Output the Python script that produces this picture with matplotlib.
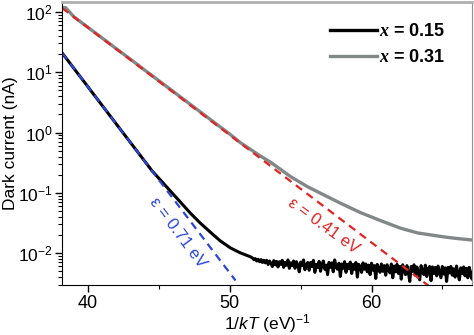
import matplotlib
matplotlib.use("Agg")
import matplotlib.pyplot as plt
import numpy as np

plt.rcParams['font.family'] = ['Liberation Sans', 'DejaVu Sans']
plt.rcParams['mathtext.fontset'] = 'custom'
plt.rcParams['mathtext.rm'] = 'Liberation Sans'
plt.rcParams['mathtext.it'] = 'Liberation Sans:italic'
plt.rcParams['mathtext.bf'] = 'Liberation Sans:bold'
plt.rcParams['mathtext.bfit'] = 'Liberation Serif:italic:bold'
plt.rcParams['axes.unicode_minus'] = False

# x = 0.15 sample (black), 1/kT in (eV)^-1, current in nA
black_x = [38.16, 38.5, 39.0, 39.5, 40.0, 40.5, 41.0, 41.5, 42.0, 42.5, 43.0, 43.5,
           44.0, 44.5, 45.09, 45.8, 46.5, 47.2, 47.9, 48.6, 49.33, 50.04, 50.74, 51.45]
black_y = [20.9, 16.4, 11.5, 8.07, 5.66, 3.97, 2.79, 1.95, 1.37, 0.96, 0.675, 0.473,
           0.332, 0.233, 0.164, 0.108, 0.0706, 0.0464, 0.0317, 0.0225, 0.0159, 0.0122,
           0.0101, 0.0087]
# noisy floor of the x = 0.15 sample (units of 1e-3 nA), read every 0.1 from 51.6
black_tail_x = np.arange(516, 673) / 10
black_tail_y = [8.3, 7.8, 8.1, 7.4, 7.9, 7.2, 7.8, 7.0, 7.6, 6.9,
                7.6, 6.5, 7.4, 6.8, 6.0, 7.5, 6.4, 7.3, 5.9, 7.2,
                6.5, 7.6, 5.8, 7.0, 6.3, 7.7, 5.6, 6.9, 6.2, 7.4,
                5.6, 7.2, 6.3, 4.9, 7.1, 6.2, 7.7, 5.3, 6.3, 7.0,
                5.2, 7.0, 6.0, 7.6, 4.8, 6.5, 5.8, 7.3, 5.0, 6.4,
                7.4, 5.4, 6.3, 4.4, 7.0, 5.8, 6.9, 4.9, 7.7, 5.9,
                5.4, 6.8, 4.1, 6.6, 5.6, 7.2, 4.8, 6.5, 5.5, 7.1,
                4.6, 6.5, 5.4, 7.0, 4.0, 6.5, 5.8, 4.8, 6.9, 5.4,
                6.6, 4.9, 6.3, 4.4, 6.8, 5.2, 6.2, 3.8, 6.5, 5.5,
                4.8, 6.6, 5.0, 6.2, 4.3, 6.4, 5.3, 4.7, 6.6, 3.9,
                6.1, 4.9, 6.5, 4.6, 6.0, 3.7, 6.4, 5.2, 4.4, 6.2,
                4.8, 3.4, 6.0, 5.0, 6.4, 4.3, 5.9, 4.7, 3.6, 6.2,
                5.0, 4.4, 6.3, 4.1, 5.5, 6.0, 3.5, 5.9, 4.6, 5.8,
                4.2, 6.1, 4.9, 3.9, 6.0, 4.5, 5.7, 3.4, 5.8, 4.7,
                6.0, 4.3, 5.5, 4.0, 6.1, 4.6, 3.6, 5.7, 4.6, 5.9,
                4.2, 5.6, 3.9, 5.8, 4.5, 3.7, 5.4]

# x = 0.31 sample (gray)
gray_x = [38.16, 38.4, 39.0, 40.0, 41.0, 42.0, 43.0, 44.0, 45.0, 46.0, 47.0, 48.0, 49.0,
          50.0, 50.74, 52.16, 52.87, 53.57, 54.28, 55.46, 56.4, 57.81, 59.22, 60.64,
          62.05, 63.25, 64.2, 65.09, 66.0, 67.0, 67.3]
gray_y = [116, 118, 82.7, 55.1, 36.7, 24.4, 16.3, 10.8, 7.2, 4.80, 3.19, 2.12, 1.41,
          0.94, 0.68, 0.407, 0.322, 0.246, 0.186, 0.127, 0.0984, 0.0672, 0.0470, 0.0346,
          0.0259, 0.0216, 0.0200, 0.0186, 0.0175, 0.0166, 0.0163]

# activation energy fits: eps (eV), start x, start current, end x
fit_eps = [0.71, 0.41]
fit_x0 = [38.16, 38.16]
fit_y0 = [20.9, 116]
fit_x1 = [50.4, 65.5]
fit_colors = ['#2b45d6', '#e52222']
fit_labels = ['\u03b5 = 0.71 eV', '\u03b5 = 0.41 eV']
label_pos = [(46.36, 0.0216), (56.6, 0.0282)]
label_rot = [-53, -36]

fig = plt.figure(figsize=(4.74, 3.35), dpi=100)
ax = fig.add_axes([0.131, 0.149, 0.865, 0.845])

ax.plot(gray_x, gray_y, color='#828787', lw=2.4)
ax.plot(black_x + list(black_tail_x), black_y + [v * 1e-3 for v in black_tail_y],
        color='black', lw=2.2)

for eps, x0, y0, x1, c in zip(fit_eps, fit_x0, fit_y0, fit_x1, fit_colors):
    xs = np.linspace(x0, x1, 200)
    ax.plot(xs, y0 * np.exp(-eps * (xs - x0)), color=c, lw=1.6, ls=(0, (3.5, 2.5)))

for txt, pos, rot, c in zip(fit_labels, label_pos, label_rot, fit_colors):
    ax.text(pos[0], pos[1], txt, color=c, fontsize=12, rotation=rot,
            rotation_mode='anchor', ha='center', va='center')

# legend handles
h1, = ax.plot([], [], color='black', lw=2.4)
h2, = ax.plot([], [], color='#828787', lw=2.4)
ax.legend([h1, h2], [r'$\mathbfit{x}$ = 0.15', r'$\mathbfit{x}$ = 0.31'],
          loc='upper right', bbox_to_anchor=(0.975, 0.982), frameon=False,
          prop={'weight': 'bold', 'size': 13}, handlelength=2.6,
          handletextpad=0.15, labelspacing=0.5, borderpad=0.4)

ax.set_yscale('log')
ax.set_xlim(38.16, 67.1)
ax.set_ylim(0.00295, 146)
ax.set_xticks([40, 50, 60])
ax.set_xticks([45, 55, 65], minor=True)
ax.tick_params(which='major', direction='out', length=5, width=1, pad=2)
ax.tick_params(axis='x', labelsize=13)
ax.tick_params(axis='y', labelsize=12.5)
ax.tick_params(which='minor', direction='out', length=3, width=0.8)
ax.spines['top'].set_color('#b0b0b0')
ax.spines['top'].set_linewidth(2)
ax.spines['right'].set_color('#909090')

ax.set_xlabel(r'1/$kT$ (eV)$^{-1}$', fontsize=12.5, labelpad=0)
ax.set_ylabel('Dark current (nA)', fontsize=12.5)
ax.yaxis.set_label_coords(-0.108, 0.5)

fig.savefig('out.png', dpi=100)
